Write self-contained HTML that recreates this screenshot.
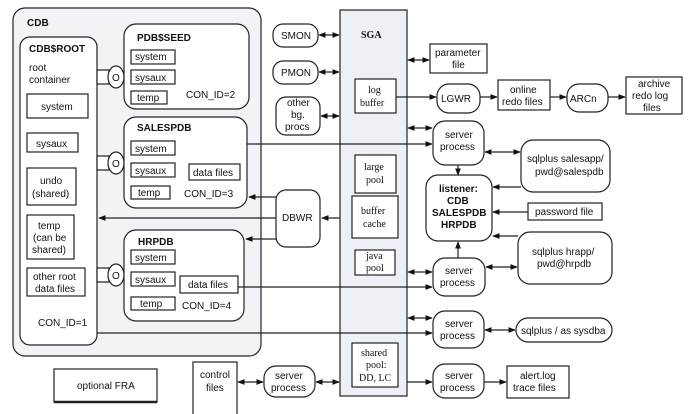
<!DOCTYPE html>
<html><head><style>
html,body{margin:0;padding:0;background:#fff;}
svg{display:block;}
text{font-family:"Liberation Sans",sans-serif;font-size:10px;fill:#111;}
.s{font-family:"Liberation Serif",serif;}
.b{font-weight:bold;}
rect,ellipse{stroke:#222;stroke-width:1.2;}
line{stroke:#222;stroke-width:1.2;}
</style></head><body>
<svg width="696" height="414" viewBox="0 0 696 414" xmlns="http://www.w3.org/2000/svg">
<defs>
<marker id="a" viewBox="0 0 10 10" refX="9" refY="5" markerWidth="6" markerHeight="6" orient="auto-start-reverse"><path d="M0,1 L10,5 L0,9 z" fill="#111"/></marker>
</defs>
<!-- CDB -->
<rect x="13" y="8" width="248" height="348" rx="12" fill="#f1f3f6"/>
<text x="27" y="26" class="b" font-size="13">CDB</text>
<rect x="20" y="37" width="77" height="308" rx="10" fill="#fff"/>
<text x="29" y="52" class="b">CDB$ROOT</text>
<text x="29" y="71">root</text><text x="29" y="83">container</text>
<rect x="27" y="94" width="61" height="24" fill="#fff"/><text x="41" y="110">system</text>
<rect x="27" y="133" width="51" height="19" fill="#fff"/><text x="36" y="147">sysaux</text>
<rect x="27" y="168" width="49" height="37" fill="#fff"/><text x="40" y="184">undo</text><text x="32" y="197">(shared)</text>
<rect x="27" y="215" width="47" height="44" fill="#fff"/><text x="38" y="229">temp</text><text x="33" y="241">(can be</text><text x="32" y="253">shared)</text>
<rect x="27" y="268" width="58" height="28" fill="#fff"/><text x="33" y="280">other root</text><text x="35" y="292">data files</text>
<text x="38" y="326">CON_ID=1</text>

<!-- PDB connectors -->
<g fill="#fff">
<rect x="97" y="70" width="12" height="14"/><ellipse cx="116" cy="77" rx="8" ry="11"/>
<rect x="97" y="156" width="12" height="14"/><ellipse cx="116" cy="163" rx="8" ry="11"/>
<rect x="97" y="268" width="12" height="14"/><ellipse cx="116" cy="275" rx="8" ry="11"/>
</g>
<text x="112" y="81">O</text><text x="112" y="167">O</text><text x="112" y="279">O</text>

<!-- PDB$SEED -->
<rect x="124" y="24" width="125" height="85" rx="12" fill="#fff"/>
<text x="137" y="41" class="b">PDB$SEED</text>
<rect x="131" y="50" width="44" height="14" fill="#fff"/><text x="135" y="60">system</text>
<rect x="131" y="70" width="44" height="14" fill="#fff"/><text x="135" y="81">sysaux</text>
<rect x="131" y="91" width="36" height="13" fill="#fff"/><text x="137" y="101">temp</text>
<text x="186" y="98">CON_ID=2</text>
<!-- SALESPDB -->
<rect x="124" y="117" width="123" height="91" rx="12" fill="#fff"/>
<text x="137" y="131" class="b">SALESPDB</text>
<rect x="131" y="141" width="44" height="14" fill="#fff"/><text x="135" y="152">system</text>
<rect x="131" y="163" width="44" height="14" fill="#fff"/><text x="135" y="174">sysaux</text>
<rect x="189" y="164" width="51" height="16" fill="#fff"/><text x="193" y="176">data files</text>
<rect x="131" y="186" width="39" height="13" fill="#fff"/><text x="138" y="196">temp</text>
<text x="184" y="197">CON_ID=3</text>
<!-- HRPDB -->
<rect x="124" y="230" width="120" height="91" rx="12" fill="#fff"/>
<text x="138" y="245" class="b">HRPDB</text>
<rect x="131" y="250" width="44" height="14" fill="#fff"/><text x="135" y="261">system</text>
<rect x="131" y="272" width="44" height="14" fill="#fff"/><text x="135" y="283">sysaux</text>
<rect x="180" y="276" width="58" height="17" fill="#fff"/><text x="188" y="288">data files</text>
<rect x="131" y="297" width="44" height="13" fill="#fff"/><text x="140" y="307">temp</text>
<text x="182" y="309">CON_ID=4</text>

<!-- bg processes -->
<rect x="273" y="24" width="45" height="23" rx="10" fill="#fff"/><text x="281" y="39">SMON</text>
<rect x="273" y="61" width="45" height="23" rx="10" fill="#fff"/><text x="281" y="76">PMON</text>
<rect x="276" y="97" width="44" height="38" rx="10" fill="#fff"/><text x="287" y="106">other</text><text x="291" y="118">bg.</text><text x="285" y="130">procs</text>
<line x1="319" y1="35" x2="339" y2="35" marker-start="url(#a)" marker-end="url(#a)"/>
<line x1="319" y1="72" x2="339" y2="72" marker-start="url(#a)" marker-end="url(#a)"/>
<line x1="321" y1="116" x2="339" y2="116" marker-start="url(#a)" marker-end="url(#a)"/>
<!-- DBWR -->
<rect x="276" y="190" width="44" height="57" rx="10" fill="#fff"/><text x="282" y="221">DBWR</text>
<line x1="340" y1="218" x2="322" y2="218" marker-end="url(#a)"/>
<line x1="276" y1="218" x2="99" y2="218" marker-end="url(#a)"/>
<line x1="276" y1="197" x2="249" y2="197" marker-end="url(#a)"/>
<line x1="276" y1="239" x2="246" y2="239" marker-end="url(#a)"/>

<!-- SGA -->
<rect x="340" y="10" width="67" height="386" fill="#edf0f5"/>
<text x="361" y="38" class="s b" font-size="13">SGA</text>
<rect x="355" y="79" width="41" height="34" fill="#fff"/><text x="368" y="93" class="s">log</text><text x="360" y="106" class="s">buffer</text>
<rect x="355" y="155" width="41" height="38" fill="#fff"/><text x="364" y="170" class="s">large</text><text x="366" y="183" class="s">pool</text>
<rect x="352" y="196" width="46" height="42" fill="#fff"/><text x="361" y="214" class="s">buffer</text><text x="363" y="227" class="s">cache</text>
<rect x="355" y="250" width="40" height="25" fill="#fff"/><text x="366" y="259" class="s">java</text><text x="366" y="271" class="s">pool</text>
<rect x="352" y="343" width="46" height="44" fill="#fff"/><text x="361" y="356" class="s">shared</text><text x="366" y="368" class="s">pool:</text><text x="359" y="381" class="s">DD, LC</text>

<!-- right side -->
<rect x="430" y="44" width="57" height="29" fill="#fff"/><text x="435" y="56">parameter</text><text x="452" y="68">file</text>
<line x1="408" y1="60" x2="429" y2="60" marker-start="url(#a)" marker-end="url(#a)"/>
<rect x="437" y="84" width="43" height="29" rx="12" fill="#fff"/><text x="441" y="102">LGWR</text>
<line x1="396" y1="97" x2="436" y2="97" marker-end="url(#a)"/>
<rect x="498" y="80" width="52" height="30" fill="#fff"/><text x="510" y="93">online</text><text x="502" y="105">redo files</text>
<line x1="480" y1="97" x2="497" y2="97" marker-end="url(#a)"/>
<rect x="567" y="84" width="41" height="28" rx="12" fill="#fff"/><text x="570" y="102">ARCn</text>
<line x1="550" y1="97" x2="566" y2="97" marker-end="url(#a)"/>
<rect x="626" y="77" width="56" height="37" fill="#fff"/><text x="638" y="87">archive</text><text x="632" y="99">redo log</text><text x="643" y="111">files</text>
<line x1="608" y1="97" x2="625" y2="97" marker-end="url(#a)"/>

<rect x="433" y="121" width="51" height="44" rx="12" fill="#fff"/><text x="445" y="138">server</text><text x="440" y="150">process</text>
<line x1="408" y1="128" x2="432" y2="128" marker-start="url(#a)" marker-end="url(#a)"/>
<line x1="247" y1="144" x2="432" y2="144" marker-end="url(#a)"/>
<rect x="521" y="140" width="89" height="52" rx="12" fill="#fff"/><text x="527" y="162">sqlplus salesapp/</text><text x="535" y="175">pwd@salespdb</text>
<line x1="485" y1="152" x2="520" y2="152" marker-start="url(#a)" marker-end="url(#a)"/>
<line x1="458" y1="165" x2="458" y2="175" marker-end="url(#a)"/>
<rect x="426" y="175" width="66" height="66" rx="12" fill="#fff"/>
<text x="439" y="192" class="b">listener:</text><text x="447" y="204" class="b">CDB</text><text x="432" y="216" class="b">SALESPDB</text><text x="441" y="228" class="b">HRPDB</text>
<line x1="521" y1="187" x2="493" y2="187" marker-end="url(#a)"/>
<rect x="528" y="203" width="74" height="17" fill="#fff"/><text x="535" y="215">password file</text>
<line x1="528" y1="212" x2="493" y2="212" marker-end="url(#a)"/>
<rect x="518" y="232" width="94" height="52" rx="12" fill="#fff"/><text x="532" y="255">sqlplus hrapp/</text><text x="537" y="267">pwd@hrpdb</text>
<line x1="518" y1="236" x2="493" y2="236" marker-end="url(#a)"/>
<rect x="433" y="258" width="52" height="38" rx="12" fill="#fff"/><text x="445" y="274">server</text><text x="440" y="286">process</text>
<line x1="458" y1="258" x2="458" y2="242" marker-end="url(#a)"/>
<line x1="408" y1="272" x2="432" y2="272" marker-start="url(#a)" marker-end="url(#a)"/>
<line x1="238" y1="287" x2="432" y2="287" marker-end="url(#a)"/>
<line x1="486" y1="267" x2="517" y2="267" marker-start="url(#a)" marker-end="url(#a)"/>

<rect x="433" y="311" width="51" height="37" rx="12" fill="#fff"/><text x="445" y="327">server</text><text x="440" y="339">process</text>
<line x1="408" y1="318" x2="432" y2="318" marker-start="url(#a)" marker-end="url(#a)"/>
<line x1="97" y1="333" x2="432" y2="333" marker-end="url(#a)"/>
<rect x="516" y="318" width="96" height="24" rx="12" fill="#fff"/><text x="521" y="334">sqlplus / as sysdba</text>
<line x1="485" y1="330" x2="515" y2="330" marker-start="url(#a)" marker-end="url(#a)"/>

<rect x="433" y="364" width="51" height="34" rx="12" fill="#fff"/><text x="445" y="379">server</text><text x="440" y="391">process</text>
<line x1="407" y1="382" x2="432" y2="382" marker-end="url(#a)"/>
<rect x="507" y="366" width="62" height="32" fill="#fff"/><text x="520" y="379">alert.log</text><text x="513" y="391">trace files</text>
<line x1="484" y1="382" x2="506" y2="382" marker-end="url(#a)"/>

<!-- bottom left -->
<rect x="54" y="369" width="103" height="33" fill="#fff"/><line x1="54" y1="402" x2="157" y2="402" style="stroke-width:2.5"/>
<text x="77" y="389">optional FRA</text>
<rect x="193" y="362" width="44" height="56" fill="#fff"/><text x="200" y="378">control</text><text x="206" y="391">files</text>
<rect x="264" y="366" width="51" height="31" rx="12" fill="#fff"/><text x="275" y="379">server</text><text x="271" y="391">process</text>
<line x1="238" y1="382" x2="263" y2="382" marker-start="url(#a)" marker-end="url(#a)"/>
<line x1="316" y1="382" x2="339" y2="382" marker-start="url(#a)" marker-end="url(#a)"/>
</svg>
</body></html>
